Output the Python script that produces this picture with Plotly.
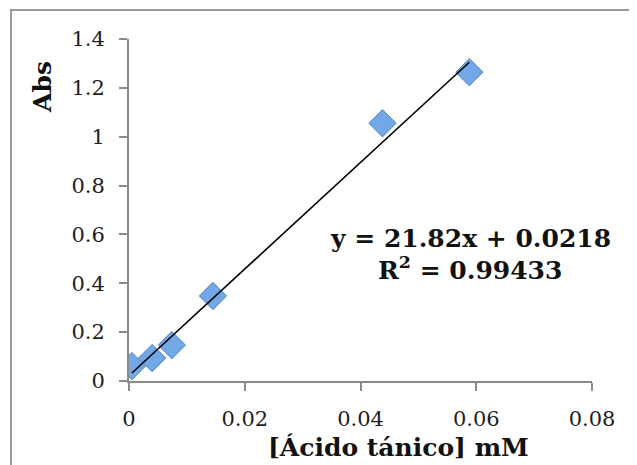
import plotly.graph_objects as go

conc_mM = [0.0005, 0.004, 0.0074, 0.0145, 0.0438, 0.0588]
absorbance = [0.061, 0.094, 0.147, 0.348, 1.055, 1.264]
slope = 21.82
intercept = 0.0218
r2 = 0.99433
x_ticks = [0, 0.02, 0.04, 0.06, 0.08]
x_tick_labels = ["0", "0.02", "0.04", "0.06", "0.08"]
y_ticks = [0, 0.2, 0.4, 0.6, 0.8, 1.0, 1.2, 1.4]
y_tick_labels = ["0", "0.2", "0.4", "0.6", "0.8", "1", "1.2", "1.4"]

# page body has an 8px margin; compensate so the plot lands where the reference is
OFF = 8
W, H = 637, 465
L, R, T, B = 129 - OFF, 637 + OFF - 592, 39 - OFF, 465 + OFF - 381
pw, ph = W - L - R, H - T - B

def px(x):
    return (x - OFF - L) / pw

def py(y):
    return (OFF + T + ph - y) / ph

fit_x = [min(conc_mM), max(conc_mM)]
fit_y = [slope * v + intercept for v in fit_x]

fig = go.Figure()
fig.add_trace(go.Scatter(
    x=conc_mM, y=absorbance, mode="markers",
    marker=dict(symbol="diamond", size=21, color="#72a8e6",
                line=dict(color="#4f82c6", width=1)),
    showlegend=False, hoverinfo="skip"))
fig.add_trace(go.Scatter(
    x=fit_x, y=fit_y, mode="lines",
    line=dict(color="black", width=1.6), showlegend=False, hoverinfo="skip"))

tickfont = dict(family="DejaVu Serif", size=21, color="#1e1e1e")
axis_common = dict(showgrid=False, zeroline=False, showline=True,
                   linecolor="#8a8a8a", linewidth=2, ticks="outside",
                   ticklen=8, tickwidth=2, tickcolor="#8a8a8a",
                   tickfont=tickfont)

textfont = dict(family="DejaVu Serif", size=25, color="#111111")

fig.update_layout(
    width=W, height=H,
    margin=dict(l=L, r=R, t=T, b=B, autoexpand=False),
    paper_bgcolor="white", plot_bgcolor="white",
    xaxis=dict(range=[0, 0.08], tickvals=x_ticks, ticktext=x_tick_labels,
               ticklabelstandoff=10, **axis_common),
    yaxis=dict(range=[0, 1.4], tickvals=y_ticks, ticktext=y_tick_labels,
               ticklabelstandoff=10, **axis_common),
    shapes=[dict(type="rect", xref="paper", yref="paper",
                 x0=px(11), x1=px(635), y0=py(480), y1=py(10),
                 line=dict(color="#9a9a9a", width=2), layer="below")],
    annotations=[
        dict(text="<b>Abs</b>", xref="paper", yref="paper",
             x=px(42), y=py(87), textangle=-90, showarrow=False,
             xanchor="center", yanchor="middle", font=textfont),
        dict(text="<b>[Ácido tánico] mM</b>", xref="paper", yref="paper",
             x=px(398), y=py(447), showarrow=False,
             xanchor="center", yanchor="middle", font=textfont),
        dict(text=f"<b>y = {slope}x + {intercept}</b>", xref="paper", yref="paper",
             x=px(470), y=py(238), showarrow=False,
             xanchor="center", yanchor="middle", font=textfont),
        dict(text=f"<b>R<sup>2</sup> = {r2}</b>", xref="paper", yref="paper",
             x=px(470), y=py(268), showarrow=False,
             xanchor="center", yanchor="middle", font=textfont),
    ],
)

fig.write_html("out.html")
